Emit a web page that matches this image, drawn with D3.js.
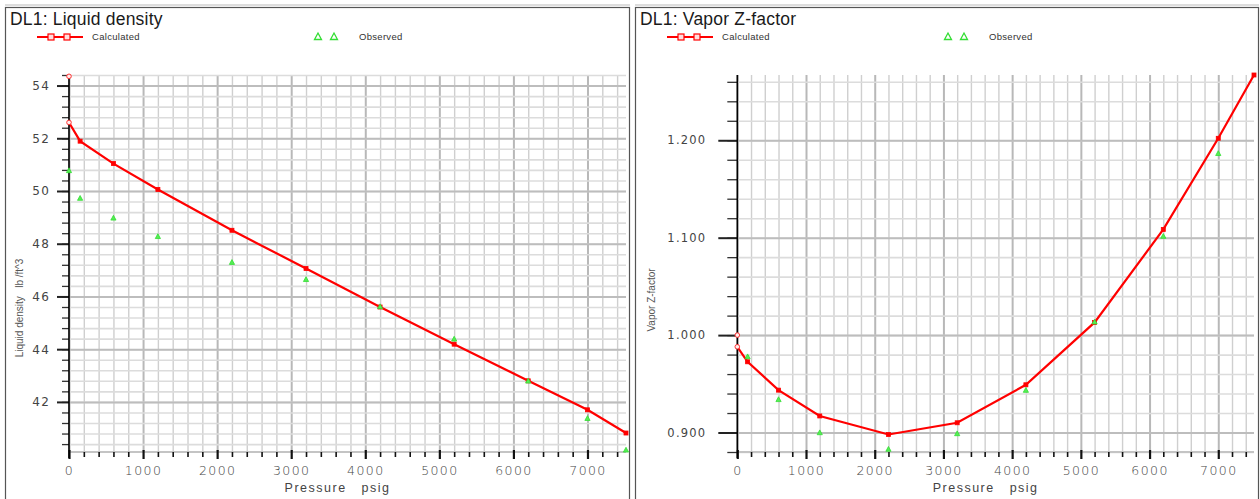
<!DOCTYPE html>
<html><head><meta charset="utf-8">
<script src="https://cdn.jsdelivr.net/npm/d3@7"></script>
<style>
html,body{margin:0;padding:0;background:#fff;}
svg{display:block;font-family:"Liberation Sans",Arial,sans-serif;}
</style></head>
<body>
<svg id="c" width="1260" height="499"></svg>
<script>
// ---- data ----
const densityCalcP = [7520, 7000, 6200, 5200, 4200, 3200, 2200, 1200, 600, 150, 0, 0];
const densityCalc  = [40.82, 41.70, 42.80, 44.19, 45.60, 47.06, 48.51, 50.06, 51.04, 51.89, 52.60, 54.35];
const densityObsP  = [7520, 7000, 6200, 5200, 4200, 3200, 2200, 1200, 600, 150, 0];
const densityObs   = [40.18, 41.38, 42.80, 44.39, 45.62, 46.65, 47.30, 48.28, 48.98, 49.73, 50.78];

const zCalcP = [7520, 7000, 6200, 5200, 4200, 3200, 2200, 1200, 600, 150, 0, 0];
const zCalc  = [1.267, 1.202, 1.1085, 1.013, 0.949, 0.910, 0.898, 0.917, 0.9435, 0.9726, 0.988, 1.000];
const zObsP  = [7000, 6200, 5200, 4200, 3200, 2200, 1200, 600, 150];
const zObs   = [1.1866, 1.1016, 1.0137, 0.9435, 0.899, 0.883, 0.900, 0.934, 0.978];

const xMajorTicks = [0, 1000, 2000, 3000, 4000, 5000, 6000, 7000];
const densityTicks = [42, 44, 46, 48, 50, 52, 54];
const zTicks = [0.9, 1.0, 1.1, 1.2];

const svg = d3.select("#c");

function panel(cfg) {
  const g = svg.append("g");
  // frame
  g.append("rect").attr("x", cfg.frame[0] + 0.5).attr("y", 7.5)
    .attr("width", cfg.frame[1] - cfg.frame[0]).attr("height", 520)
    .attr("fill", "#fff").attr("stroke", "#555").attr("stroke-width", 1.2);
  g.append("line").attr("x1", cfg.frame[0]).attr("x2", cfg.frame[1] + 1).attr("y1", 5).attr("y2", 5)
    .attr("stroke", "#bbb").attr("stroke-width", 1);

  // title
  g.append("text").attr("x", cfg.frame[0] + 5).attr("y", 25).attr("font-size", 17.5)
    .attr("fill", "#1a1a1a").attr("letter-spacing", 0.2).text(cfg.title);

  // legend
  const lx = cfg.frame[0] + 32;
  g.append("line").attr("x1", lx).attr("x2", lx + 46).attr("y1", 37).attr("y2", 37)
    .attr("stroke", "#f00").attr("stroke-width", 2);
  [lx + 14, lx + 30].forEach(x => g.append("rect").attr("x", x - 3).attr("y", 34).attr("width", 6).attr("height", 6)
    .attr("fill", "#fdd").attr("stroke", "#f00").attr("stroke-width", 1.2));
  g.append("text").attr("x", lx + 55).attr("y", 40).attr("font-size", 9.5).attr("fill", "#333")
    .attr("letter-spacing", 0.3).text("Calculated");
  const tx = cfg.frame[0] + 313;
  [tx, tx + 16].forEach(x => g.append("path")
    .attr("d", `M${x - 3.5},39.5L${x},33L${x + 3.5},39.5Z`).attr("fill", "none")
    .attr("stroke", "#3d3").attr("stroke-width", 1.3));
  g.append("text").attr("x", tx + 41).attr("y", 40).attr("font-size", 9.5).attr("fill", "#333")
    .attr("letter-spacing", 0.3).text("Observed");

  const x = d3.scaleLinear().domain([0, 7520]).range(cfg.xr);
  const y = d3.scaleLinear().domain(cfg.yd).range([452, 75]);

  // minor grid
  const xMinor = d3.range(0, 7520, 200);
  const yMinor = d3.range(cfg.minorStart, cfg.yd[1] + 1e-9, cfg.minorStep).map(v => +v.toFixed(4));
  const gx = g.append("g").attr("transform", `translate(0,452)`)
    .call(d3.axisBottom(x).tickValues(xMinor).tickSize(-377).tickFormat(""));
  gx.select(".domain").remove();
  gx.selectAll("line").attr("stroke", d => (d % 1000 === 0 ? "#b8b8b8" : "#cfcfcf"))
    .attr("stroke-width", d => (d % 1000 === 0 ? 2 : 1.4));
  const gyMinor = g.append("g").attr("transform", `translate(${cfg.xr[0]},0)`)
    .call(d3.axisLeft(y).tickValues(yMinor).tickSize(-(cfg.xr[1] - cfg.xr[0])).tickFormat(""));
  gyMinor.select(".domain").remove();
  gyMinor.selectAll("line").attr("stroke", "#dcdcdc").attr("stroke-width", 1.6);
  const gyMajor = g.append("g").attr("transform", `translate(${cfg.xr[0]},0)`)
    .call(d3.axisLeft(y).tickValues(cfg.yTicks).tickSize(-(cfg.xr[1] - cfg.xr[0])).tickFormat(""));
  gyMajor.select(".domain").remove();
  gyMajor.selectAll("line").attr("stroke", "#bdbdbd").attr("stroke-width", 2);

  // bottom axis line (gray band)
  g.append("line").attr("x1", cfg.xr[0]).attr("x2", cfg.xr[1]).attr("y1", 452).attr("y2", 452)
    .attr("stroke", "#c4c4c4").attr("stroke-width", 2);

  // x ticks
  const xtMinor = g.append("g").attr("transform", `translate(0,452)`)
    .call(d3.axisBottom(x).tickValues(xMinor.filter(v => v % 1000 !== 0)).tickSize(5).tickFormat(""));
  xtMinor.select(".domain").remove();
  xtMinor.selectAll("line").attr("stroke", "#111").attr("stroke-width", 1.6);
  const xtMajor = g.append("g").attr("transform", `translate(0,452)`)
    .call(d3.axisBottom(x).tickValues(xMajorTicks).tickSize(9).tickPadding(5).tickFormat(d3.format("d")));
  xtMajor.select(".domain").remove();
  xtMajor.selectAll("line").attr("stroke", "#111").attr("stroke-width", 2.2).attr("transform", "translate(0,-2)");
  xtMajor.selectAll("text").attr("font-size", 12.5).attr("fill", "#444").attr("letter-spacing", 1.4)
    .attr("font-family", "'DejaVu Sans',Arial,sans-serif").attr("font-weight", 300);

  // y ticks
  const ytMinor = g.append("g").attr("transform", `translate(${cfg.xr[0]},0)`)
    .call(d3.axisLeft(y).tickValues(yMinor).tickSize(cfg.minorLen).tickFormat(""));
  ytMinor.select(".domain").remove();
  ytMinor.selectAll("line").attr("stroke", "#333").attr("stroke-width", 1.3);
  const ytMajor = g.append("g").attr("transform", `translate(${cfg.xr[0]},0)`)
    .call(d3.axisLeft(y).tickValues(cfg.yTicks).tickSize(cfg.majorLen).tickPadding(cfg.labelPad).tickFormat(cfg.fmt));
  ytMajor.select(".domain").remove();
  ytMajor.selectAll("line").attr("stroke", "#222").attr("stroke-width", 2);
  ytMajor.selectAll("text").attr("font-size", cfg.yFont).attr("fill", "#444").attr("letter-spacing", 1.2)
    .attr("font-family", "'DejaVu Sans',Arial,sans-serif");

  // axis titles
  g.append("text").attr("x", (cfg.xr[0] + cfg.xr[1]) / 2 - 10).attr("y", 492).attr("text-anchor", "middle")
    .attr("font-size", 12.5).attr("fill", "#444").attr("letter-spacing", 1.5)
    .attr("xml:space", "preserve").text("Pressure   psig");
  g.append("text").attr("transform", `translate(${cfg.ytx},${cfg.yty}) rotate(-90)`).attr("text-anchor", "middle")
    .attr("font-size", 10).attr("fill", "#555").attr("xml:space", "preserve").text(cfg.ylabel);

  // data line (residual point at the end is a lone marker)
  const calc = cfg.cp.map((p, i) => [p, cfg.cv[i]]);
  const obs = cfg.op.map((p, i) => [p, cfg.ov[i]]);
  g.append("path").datum(calc.slice(0, -1))
    .attr("d", d3.line().x(d => x(d[0])).y(d => y(d[1])))
    .attr("fill", "none").attr("stroke", "#f00").attr("stroke-width", 2.2);

  // y axis line
  g.append("line").attr("x1", cfg.xr[0]).attr("x2", cfg.xr[0]).attr("y1", 75).attr("y2", 458)
    .attr("stroke", "#000").attr("stroke-width", 1.6);

  // markers
  g.selectAll(".cm").data(calc.filter((d, i) => i < calc.length - 2)).enter().append("rect")
    .attr("x", d => x(d[0]) - 2).attr("y", d => y(d[1]) - 2).attr("width", 4).attr("height", 4)
    .attr("fill", "#f00").attr("stroke", "#f00").attr("stroke-width", 0.8);
  g.selectAll(".cc").data(calc.filter((d, i) => i >= calc.length - 2)).enter().append("circle")
    .attr("cx", d => x(d[0])).attr("cy", d => y(d[1])).attr("r", 2.3)
    .attr("fill", "#fee").attr("stroke", "#f33").attr("stroke-width", 1);
  g.selectAll(".om").data(obs).enter().append("path")
    .attr("d", d => { const px = x(d[0]), py = y(d[1]); return `M${px - 2.6},${py + 2.2}L${px},${py - 2.6}L${px + 2.6},${py + 2.2}Z`; })
    .attr("fill", "#5e5").attr("stroke", "#3d3").attr("stroke-width", 0.8);
}

panel({
  frame: [5, 629], title: "DL1: Liquid density",
  xr: [69, 626], yd: [40.1, 54.4], yTicks: densityTicks, minorStart: 40.4, minorStep: 0.4,
  fmt: d3.format("d"), majorLen: 12, minorLen: 7, labelPad: 7, yFont: 12,
  ylabel: "Liquid density   lb /ft^3", ytx: 23, yty: 308,
  cp: densityCalcP, cv: densityCalc, op: densityObsP, ov: densityObs
});
panel({
  frame: [635, 1258], title: "DL1: Vapor Z-factor",
  xr: [737.3, 1254], yd: [0.880, 1.267], yTicks: zTicks, minorStart: 0.88, minorStep: 0.02,
  fmt: d3.format(".3f"), majorLen: 19, minorLen: 10, labelPad: 12, yFont: 11.5,
  ylabel: "Vapor Z-factor", ytx: 655, yty: 300,
  cp: zCalcP, cv: zCalc, op: zObsP, ov: zObs
});
</script>
</body></html>
